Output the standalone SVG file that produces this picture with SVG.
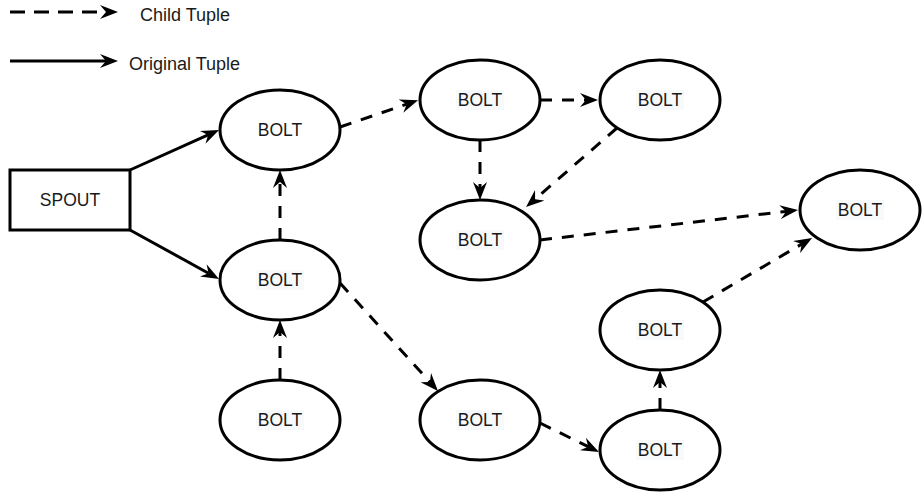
<svg xmlns="http://www.w3.org/2000/svg" width="922" height="504" viewBox="0 0 922 504">
<style>
  .node { fill: #ffffff; stroke: #000000; stroke-width: 3; }
  .lbl { font-family: "Liberation Sans", Arial, Helvetica, sans-serif; font-size: 17.5px; fill: #1a1a1a; text-anchor: middle; }
  .legend { font-family: "Liberation Sans", Arial, Helvetica, sans-serif; font-size: 18px; fill: #1a1a1a; }
  .lblbg { fill: #f8f9fa; stroke: none; }
  .solid { fill: none; stroke: #000000; stroke-width: 3; marker-end: url(#arrow); }
  .dashed { fill: none; stroke: #000000; stroke-width: 3; stroke-dasharray: 12 10; marker-end: url(#arrow); }
</style>
<defs>
  <marker id="arrow" viewBox="0 0 18 14" markerWidth="18" markerHeight="14" refX="6" refY="7" orient="auto" markerUnits="userSpaceOnUse">
    <path d="M0,0 L18,7 L0,14 L6,7 Z" fill="#000000" stroke="none"/>
  </marker>
</defs>
<rect width="922" height="504" fill="#ffffff"/>

<g id="legend">
  <line x1="10" y1="12" x2="106" y2="12" fill="none" stroke="#000" stroke-width="3" stroke-dasharray="15 9" marker-end="url(#arrow)"/>
  <text class="legend" x="140" y="21">Child Tuple</text>
  <line x1="10" y1="61" x2="106" y2="61" class="solid"/>
  <text class="legend" x="129" y="70">Original Tuple</text>
</g>

<g id="connectors">
  <line class="solid" x1="130" y1="170" x2="208.1" y2="134.9"/>
  <line class="solid" x1="130" y1="230" x2="208.5" y2="273.2"/>
  <line class="dashed" x1="340" y1="127" x2="406.7" y2="104.2"/>
  <line class="dashed" x1="540" y1="100" x2="586" y2="100"/>
  <line class="dashed" x1="480" y1="140" x2="480" y2="188"/>
  <line class="dashed" x1="617" y1="128" x2="535.1" y2="199.2"/>
  <line class="dashed" x1="540" y1="240" x2="786.1" y2="211.4"/>
  <line class="dashed" x1="703" y1="302" x2="801.7" y2="244.1"/>
  <line class="dashed" x1="280" y1="240" x2="280" y2="182"/>
  <line class="dashed" x1="280" y1="380" x2="280" y2="332"/>
  <line class="dashed" x1="340" y1="283" x2="429.9" y2="382.1"/>
  <line class="dashed" x1="540" y1="423" x2="588.2" y2="446.7"/>
  <line class="dashed" x1="660" y1="410" x2="660" y2="382"/>
</g>

<g id="spout">
  <rect class="node" x="10" y="170" width="120" height="60"/>
  <text class="lbl" x="70" y="206">SPOUT</text>
</g>
<g id="boltA">
  <ellipse class="node" cx="280" cy="130" rx="60" ry="40"/>
  <text class="lbl" x="280" y="136">BOLT</text>
</g>
<g id="boltB">
  <ellipse class="node" cx="280" cy="280" rx="60" ry="40"/>
  <rect class="lblbg" x="256" y="270" width="48" height="20"/>
  <text class="lbl" x="280" y="286">BOLT</text>
</g>
<g id="boltC">
  <ellipse class="node" cx="280" cy="420" rx="60" ry="40"/>
  <rect class="lblbg" x="256" y="410" width="48" height="20"/>
  <text class="lbl" x="280" y="426">BOLT</text>
</g>
<g id="boltD">
  <ellipse class="node" cx="480" cy="100" rx="60" ry="40"/>
  <rect class="lblbg" x="456" y="90" width="48" height="20"/>
  <text class="lbl" x="480" y="106">BOLT</text>
</g>
<g id="boltE">
  <ellipse class="node" cx="660" cy="100" rx="60" ry="40"/>
  <rect class="lblbg" x="636" y="90" width="48" height="20"/>
  <text class="lbl" x="660" y="106">BOLT</text>
</g>
<g id="boltF">
  <ellipse class="node" cx="480" cy="240" rx="60" ry="40"/>
  <rect class="lblbg" x="456" y="230" width="48" height="20"/>
  <text class="lbl" x="480" y="246">BOLT</text>
</g>
<g id="boltG">
  <ellipse class="node" cx="860" cy="210" rx="60" ry="40"/>
  <rect class="lblbg" x="836" y="200" width="48" height="20"/>
  <text class="lbl" x="860" y="216">BOLT</text>
</g>
<g id="boltH">
  <ellipse class="node" cx="480" cy="420" rx="60" ry="40"/>
  <rect class="lblbg" x="456" y="410" width="48" height="20"/>
  <text class="lbl" x="480" y="426">BOLT</text>
</g>
<g id="boltI">
  <ellipse class="node" cx="660" cy="450" rx="60" ry="40"/>
  <rect class="lblbg" x="636" y="440" width="48" height="20"/>
  <text class="lbl" x="660" y="456">BOLT</text>
</g>
<g id="boltJ">
  <ellipse class="node" cx="660" cy="330" rx="60" ry="40"/>
  <rect class="lblbg" x="636" y="320" width="48" height="20"/>
  <text class="lbl" x="660" y="336">BOLT</text>
</g>
</svg>
